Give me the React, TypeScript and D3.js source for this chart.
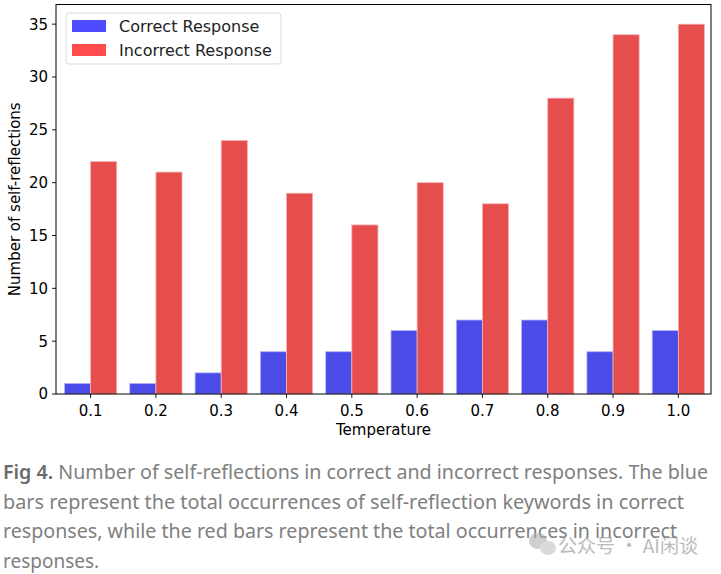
import React from "react";
import * as d3 from "d3";

const categories = ["0.1", "0.2", "0.3", "0.4", "0.5", "0.6", "0.7", "0.8", "0.9", "1.0"];
const correctValues = [1, 1, 2, 4, 4, 6, 7, 7, 4, 6];
const incorrectValues = [22, 21, 24, 19, 16, 20, 18, 28, 34, 35];
const yTicks = [0, 5, 10, 15, 20, 25, 30, 35];
const seriesNames = ["Correct Response", "Incorrect Response"];
const captionLines = [
  "Number of self-reflections in correct and incorrect responses. The blue",
  "bars represent the total occurrences of self-reflection keywords in correct",
  "responses, while the red bars represent the total occurrences in incorrect",
  "responses.",
];
const watermark = "公众号 · AI闲谈";

const W = 721;
const H = 574;
const plot = { left: 56, right: 711, top: 4.5, bottom: 394 };
const FONT = "'DejaVu Sans', sans-serif";
const CAPFONT = "'Noto Sans', 'Open Sans', sans-serif";
const BAR_BLUE = "#4b4be8";
const BAR_RED = "#e64d4d";
const LEG_BLUE = "#4d4dff";
const LEG_RED = "#ff4d4d";

export default function App() {
  const x = d3.scaleLinear().domain([-0.53, 9.5]).range([plot.left, plot.right]);
  const y = d3.scaleLinear().domain([0, 36.86]).range([plot.bottom, plot.top]);
  const bw = 0.4;

  return (
    <div style={{ position: "absolute", left: 0, top: 0 }}>
      <svg width={W} height={H} style={{ display: "block", background: "#fff" }}>
        {categories.map((c, i) => (
          <g key={c}>
            <rect
              x={x(i - bw)}
              y={y(correctValues[i])}
              width={x(i) - x(i - bw)}
              height={y(0) - y(correctValues[i])}
              fill={BAR_BLUE}
              stroke="#b3b3f5"
              strokeWidth={0.8}
            />
            <rect
              x={x(i)}
              y={y(incorrectValues[i])}
              width={x(i + bw) - x(i)}
              height={y(0) - y(incorrectValues[i])}
              fill={BAR_RED}
              stroke="#f5b3b3"
              strokeWidth={0.8}
            />
          </g>
        ))}
        <rect
          x={plot.left}
          y={plot.top}
          width={plot.right - plot.left}
          height={plot.bottom - plot.top}
          fill="none"
          stroke="#000"
          strokeWidth={1}
        />
        {yTicks.map((t) => (
          <g key={t}>
            <line x1={plot.left - 4} x2={plot.left} y1={y(t)} y2={y(t)} stroke="#000" strokeWidth={0.9} />
            <text x={plot.left - 8} y={y(t)} dy="0.36em" textAnchor="end" fontFamily={FONT} fontSize={15} fill="#000">
              {t}
            </text>
          </g>
        ))}
        {categories.map((c, i) => (
          <g key={c}>
            <line x1={x(i)} x2={x(i)} y1={plot.bottom} y2={plot.bottom + 4} stroke="#000" strokeWidth={0.9} />
            <text x={x(i)} y={plot.bottom + 22} textAnchor="middle" fontFamily={FONT} fontSize={15} fill="#000">
              {c}
            </text>
          </g>
        ))}
        <text x={(plot.left + plot.right) / 2} y={435} textAnchor="middle" fontFamily={FONT} fontSize={15}>
          Temperature
        </text>
        <text
          transform={`translate(20, ${(plot.top + plot.bottom) / 2}) rotate(-90)`}
          textAnchor="middle"
          fontFamily={FONT}
          fontSize={15}
        >
          Number of self-reflections
        </text>
        <rect x={66} y={13} width={215} height={51} rx={3} fill="#fff" fillOpacity={0.8} stroke="#d9d9d9" />
        {[LEG_BLUE, LEG_RED].map((col, k) => (
          <g key={k}>
            <rect x={72} y={20 + k * 24} width={34} height={12} fill={col} />
            <text x={119} y={32 + k * 24} fontFamily={FONT} fontSize={16} fill="#222">
              {seriesNames[k]}
            </text>
          </g>
        ))}
        <text x={3} y={479} fontFamily={CAPFONT} fontSize={19} fill="#808080" textLength={705} lengthAdjust="spacingAndGlyphs">
          <tspan fill="#6b6b6b" fontWeight={600}>Fig 4.</tspan> {captionLines[0]}
        </text>
        <text x={3} y={508.5} fontFamily={CAPFONT} fontSize={19} fill="#808080" textLength={681} lengthAdjust="spacingAndGlyphs">
          {captionLines[1]}
        </text>
        <text x={3} y={538} fontFamily={CAPFONT} fontSize={19} fill="#808080" textLength={674} lengthAdjust="spacingAndGlyphs">
          {captionLines[2]}
        </text>
        <text x={3} y={567.5} fontFamily={CAPFONT} fontSize={19} fill="#808080">
          {captionLines[3]}
        </text>
        <g opacity={0.6}>
          <ellipse cx={538} cy={541} rx={9} ry={8} fill="#b0b0b0" />
          <ellipse cx={548} cy={548} rx={8} ry={7} fill="#c2c2c2" />
          <text x={558} y={553} fontFamily="'Noto Sans CJK SC', sans-serif" fontSize={19} fill="#8f8f8f" textLength={140} lengthAdjust="spacingAndGlyphs">
            {watermark}
          </text>
        </g>
      </svg>
    </div>
  );
}
